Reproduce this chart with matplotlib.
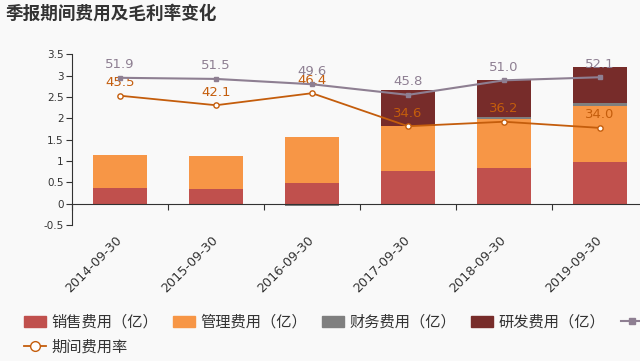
import matplotlib
matplotlib.use("Agg")
import matplotlib.pyplot as plt
import numpy as np
from matplotlib.ticker import FuncFormatter, FixedLocator
from matplotlib.patches import Patch
from matplotlib.lines import Line2D

plt.rcParams['font.family'] = ['DejaVu Sans', 'Noto Sans CJK SC']

categories = ["2014-09-30", "2015-09-30", "2016-09-30", "2017-09-30", "2018-09-30", "2019-09-30"]
sales = [0.36, 0.34, 0.48, 0.755, 0.825, 0.98]
admin = [0.78, 0.77, 1.08, 1.07, 1.155, 1.32]
finance = [-0.01, -0.01, -0.05, -0.02, 0.05, 0.05]
rnd = [0.0, 0.0, 0.0, 0.83, 0.87, 0.86]
gross_margin = [51.9, 51.5, 49.6, 45.8, 51.0, 52.1]
expense_ratio = [45.5, 42.1, 46.4, 34.6, 36.2, 34.0]

series_names = ["销售费用（亿）", "管理费用（亿）", "财务费用（亿）", "研发费用（亿）", "毛利率", "期间费用率"]

c_sales = "#c0504d"
c_admin = "#f79646"
c_fin = "#7f7f7f"
c_rnd = "#772c2a"
c_gm = "#8e7f92"
c_er = "#c45d0c"
bg = "#f9f9f9"
txt = "#333333"

fig = plt.figure(figsize=(6.4, 3.61), dpi=100, facecolor=bg)
ax = fig.add_axes([0.1125, 0.3767, 0.9, 0.4729])
ax.set_facecolor(bg)

x = np.arange(len(categories))
w = 0.56
sales_a = np.array(sales)
admin_a = np.array(admin)
fin_a = np.array(finance)
rnd_a = np.array(rnd)

pos = np.zeros(len(x))
neg = np.zeros(len(x))

ax.bar(x, sales_a, w, bottom=pos, color=c_sales, zorder=2)
pos = pos + sales_a
ax.bar(x, admin_a, w, bottom=pos, color=c_admin, zorder=2)
pos = pos + admin_a
fin_pos = np.where(fin_a > 0, fin_a, 0)
fin_neg = np.where(fin_a < 0, fin_a, 0)
ax.bar(x, fin_pos, w, bottom=pos, color=c_fin, zorder=2)
ax.bar(x, fin_neg, w, bottom=neg, color=c_fin, zorder=2)
pos = pos + fin_pos
ax.bar(x, rnd_a, w, bottom=pos, color=c_rnd, zorder=2)

ax.set_xlim(-0.5, len(x) - 0.5)
ax.set_ylim(-0.5, 3.5)

for s in ["top", "right"]:
    ax.spines[s].set_visible(False)
ax.spines["bottom"].set_position(("data", 0))
ax.spines["bottom"].set_color(txt)
ax.spines["left"].set_color(txt)
ax.spines["bottom"].set_zorder(3)

ax.yaxis.set_major_locator(FixedLocator(np.arange(-0.5, 3.51, 0.5)))
ax.yaxis.set_major_formatter(FuncFormatter(lambda v, p: f"{v:g}"))
ax.tick_params(axis="y", direction="out", length=4, color=txt, labelcolor=txt, labelsize=7.5, pad=2)

ax.xaxis.set_major_locator(FixedLocator(np.arange(-0.5, len(x), 1.0)))
ax.xaxis.set_major_formatter(FuncFormatter(lambda v, p: ""))
ax.xaxis.set_minor_locator(FixedLocator(x))
ax.set_xticklabels(categories, minor=True)
ax.tick_params(axis="x", which="major", direction="out", length=4, color=txt)
ax.tick_params(axis="x", which="minor", length=0, pad=25, labelsize=9.2, labelcolor=txt)
for lab in ax.get_xticklabels(minor=True):
    lab.set_rotation(45)
    lab.set_ha("right")
    lab.set_va("center")
    lab.set_rotation_mode("anchor")

ax2 = ax.twinx()
ax2.set_ylim(-0.7, 60.3)
ax2.axis("off")
ax2.plot(x, gross_margin, color=c_gm, lw=1.5, marker="s", ms=3.5, mfc=c_gm, mec=c_gm, zorder=4)
ax2.plot(x, expense_ratio, color=c_er, lw=1.3, marker="o", ms=3.8, mfc="white", mec=c_er, mew=1, zorder=4)
for xi, v in zip(x, gross_margin):
    ax2.annotate(f"{v:.1f}", (xi, v), xytext=(0, 9.5), textcoords="offset points",
                 ha="center", va="center", fontsize=9.5, color=c_gm)
for xi, v in zip(x, expense_ratio):
    ax2.annotate(f"{v:.1f}", (xi, v), xytext=(0, 9.5), textcoords="offset points",
                 ha="center", va="center", fontsize=9.5, color=c_er)

fig.text(0.008, 0.962, "季报期间费用及毛利率变化", fontsize=12.7, fontweight="bold", color=txt,
         ha="left", va="center", family=["Noto Sans CJK SC", "DejaVu Sans"])

handles1 = [Patch(color=c_sales), Patch(color=c_admin), Patch(color=c_fin), Patch(color=c_rnd),
            Line2D([0], [0], color=c_gm, lw=1.5, marker="s", ms=5, mfc=c_gm)]
leg1 = fig.legend(handles1, series_names[:5], loc="center left", bbox_to_anchor=(0.037, 0.108),
                  ncol=5, frameon=False, borderpad=0, borderaxespad=0, handlelength=1.45,
                  handleheight=0.75, handletextpad=0.35, columnspacing=0.98,
                  prop={"family": ["Noto Sans CJK SC", "DejaVu Sans"], "size": 11})
for t in leg1.get_texts():
    t.set_color(txt)
handles2 = [Line2D([0], [0], color=c_er, lw=1.3, marker="o", ms=7, mfc="white", mec=c_er)]
leg2 = fig.legend(handles2, series_names[5:], loc="center left", bbox_to_anchor=(0.037, 0.039),
                  frameon=False, borderpad=0, borderaxespad=0, handlelength=1.45,
                  handletextpad=0.35,
                  prop={"family": ["Noto Sans CJK SC", "DejaVu Sans"], "size": 11})
for t in leg2.get_texts():
    t.set_color(txt)

fig.savefig("out.png", dpi=100, facecolor=bg)
